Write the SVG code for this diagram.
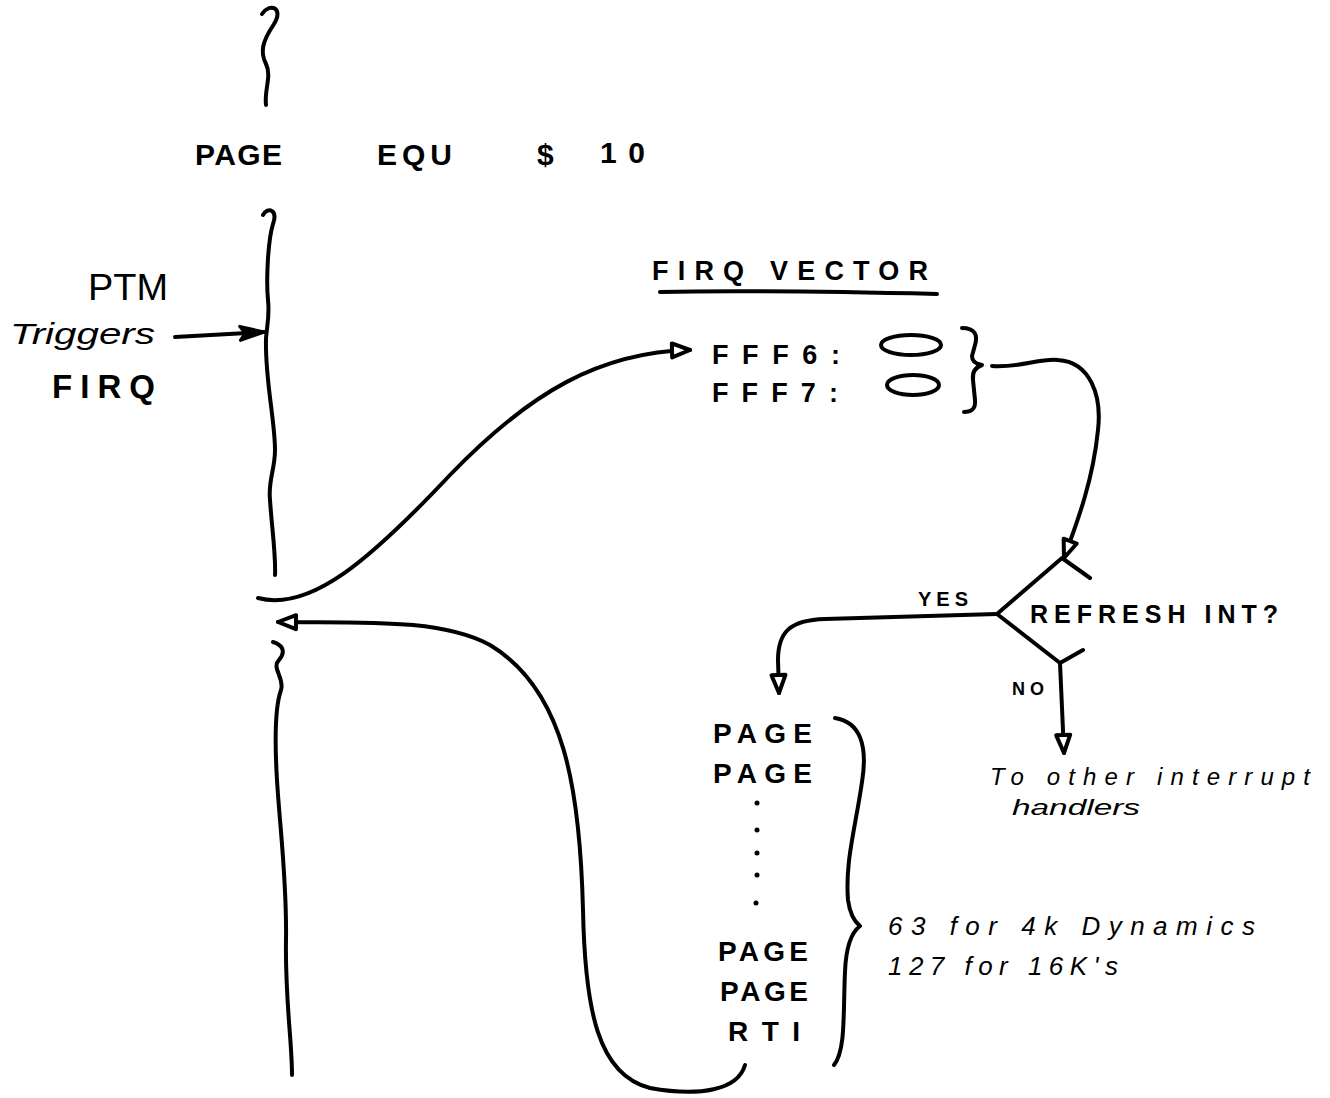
<svg xmlns="http://www.w3.org/2000/svg" width="1330" height="1098" viewBox="0 0 1330 1098">
<defs>
<style>
.ln{fill:none;stroke:#000;stroke-width:4;stroke-linecap:round;stroke-linejoin:round}
.t{font-family:"Liberation Sans",Arial,sans-serif;font-weight:bold;fill:#000}
.u{font-family:"Liberation Sans",Arial,sans-serif;fill:#000}
.h{font-family:"Liberation Sans",Arial,sans-serif;font-style:italic;fill:#000}
</style>
<marker id="open" viewBox="0 0 24 20" refX="21" refY="10" markerWidth="24" markerHeight="20" markerUnits="userSpaceOnUse" orient="auto">
<path d="M3,3 L21,10 L3,17 Z" fill="#fff" stroke="#000" stroke-width="4" stroke-linejoin="round"/>
</marker>
<marker id="solid" viewBox="0 0 30 20" refX="27" refY="10" markerWidth="30" markerHeight="20" markerUnits="userSpaceOnUse" orient="auto">
<path d="M3,3 L27,10 L3,17 L8,10 Z" fill="#000" stroke="#000" stroke-width="3" stroke-linejoin="round"/>
</marker>
</defs>
<rect width="1330" height="1098" fill="#fff"/>

<g id="flow-lines">
<path class="ln" d="M262,14 C270,2 284,8 274,24 C262,42 260,52 266,64 C272,76 264,90 266,105"/>
<path class="ln" d="M263,215 C268,206 278,210 273,224 C268,240 266,280 268,300 C270,318 266,330 266,340 C265,380 275,420 275,450 C275,470 268,480 270,500 C272,530 276,555 275,575"/>
<path class="ln" d="M273,642 C283,645 286,652 279,660 C271,668 285,678 281,690 C276,704 274,730 277,780 C280,830 287,880 286,940 C285,1000 292,1040 292,1075"/>
</g>

<g id="equ">
<text class="t" x="195" y="165" font-size="30" textLength="87" lengthAdjust="spacing">PAGE</text>
<text class="t" x="377" y="165" font-size="30" textLength="75" lengthAdjust="spacing">EQU</text>
<text class="t" x="537" y="165" font-size="30">$</text>
<text class="t" x="600" y="163" font-size="30" textLength="45" lengthAdjust="spacing">10</text>
</g>

<g id="ptm">
<text class="u" x="88" y="300" font-size="36" textLength="80" lengthAdjust="spacingAndGlyphs">PTM</text>
<text class="h" x="10" y="344" font-size="30" textLength="145" lengthAdjust="spacingAndGlyphs">Triggers</text>
<text class="t" x="52" y="398" font-size="33" textLength="103" lengthAdjust="spacing">FIRQ</text>
</g>

<g id="firq-vector">
<text class="t" x="652" y="280" font-size="27" textLength="276" lengthAdjust="spacing">FIRQ   VECTOR</text>
<path class="ln" d="M660,292 C750,290 850,292 937,294" stroke-width="5"/>
<text class="t" x="712" y="364" font-size="27" textLength="128" lengthAdjust="spacing">FFF6:</text>
<text class="t" x="712" y="402" font-size="27" textLength="126" lengthAdjust="spacing">FFF7:</text>
<ellipse class="ln" cx="911" cy="345" rx="30" ry="10"/>
<ellipse class="ln" cx="913" cy="385" rx="26" ry="10"/>
<path class="ln" d="M962,328 C975,328 978,335 975,345 L972,356 C972,362 976,364 982,365 C976,367 972,371 973,380 L975,400 C976,410 970,412 964,412"/>
</g>

<g id="decision">
<polyline class="ln" points="1090,578 1062,558 997,614 1060,663 1083,650"/>
<text class="t" x="1030" y="623" font-size="25" textLength="248" lengthAdjust="spacing">REFRESH  INT?</text>
</g>

<g id="other-handlers">
<text class="h" x="990" y="785" font-size="24" textLength="320" lengthAdjust="spacing">To  other  interrupt</text>
<text class="h" x="1012" y="815" font-size="22" textLength="128" lengthAdjust="spacingAndGlyphs">handlers</text>
</g>

<g id="page-routine">
<text class="t" x="713" y="743" font-size="28" textLength="99" lengthAdjust="spacing">PAGE</text>
<text class="t" x="713" y="783" font-size="28" textLength="99" lengthAdjust="spacing">PAGE</text>
<g fill="#000">
<circle cx="757" cy="803" r="2.5"/>
<circle cx="757" cy="830" r="2.5"/>
<circle cx="757" cy="853" r="2.5"/>
<circle cx="757" cy="875" r="2.5"/>
<circle cx="756" cy="903" r="2.5"/>
</g>
<text class="t" x="718" y="961" font-size="28" textLength="90" lengthAdjust="spacing">PAGE</text>
<text class="t" x="720" y="1001" font-size="28" textLength="88" lengthAdjust="spacing">PAGE</text>
<text class="t" x="728" y="1041" font-size="28" textLength="72" lengthAdjust="spacing">RTI</text>
<path class="ln" d="M835,718 C860,722 868,745 862,782 C855,830 845,862 848,900 C850,915 855,922 860,926 C852,932 846,945 845,972 C843,1012 846,1050 834,1065"/>
<text class="h" x="888" y="935" font-size="26" textLength="367" lengthAdjust="spacing">63  for  4k  Dynamics</text>
<text class="h" x="888" y="975" font-size="26" textLength="230" lengthAdjust="spacing">127  for  16K's</text>
</g>

<g id="connectors">
<path class="ln" d="M175,337 L264,332" marker-end="url(#solid)"/>
<path class="ln" d="M258,598 C310,612 370,560 450,475 C530,392 600,352 690,350" marker-end="url(#open)"/>
<path class="ln" d="M992,366 C1020,368 1040,358 1058,360 C1090,362 1102,395 1098,430 C1093,480 1078,520 1064,558" marker-end="url(#open)"/>
<path class="ln" d="M997,614 L825,619 C790,620 778,632 778,660 L779,693" marker-end="url(#open)"/>
<path class="ln" d="M1060,663 L1064,753" marker-end="url(#open)"/>
<path class="ln" d="M745,1065 C738,1090 700,1097 650,1088 C598,1075 585,1010 583,910 C580,790 565,690 490,645 C440,618 360,623 278,622" marker-end="url(#open)"/>
<text class="t" x="918" y="606" font-size="20" textLength="50" lengthAdjust="spacing">YES</text>
<text class="t" x="1012" y="695" font-size="18" textLength="32" lengthAdjust="spacing">NO</text>
</g>
</svg>
